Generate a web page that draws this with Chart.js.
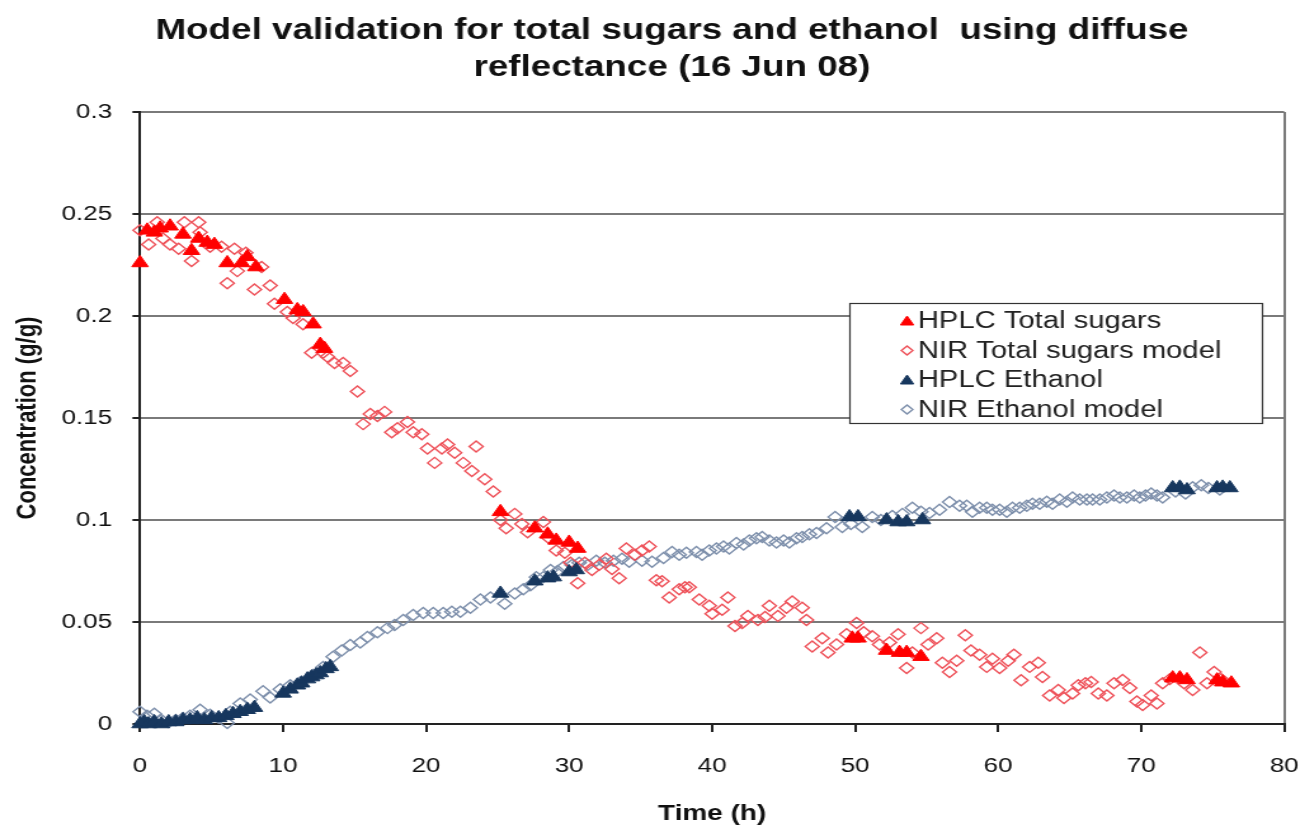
<!DOCTYPE html>
<html>
<head>
<meta charset="utf-8">
<title>Model validation for total sugars and ethanol</title>
<script src="https://cdn.jsdelivr.net/npm/chart.js@4.4.1/dist/chart.umd.min.js"></script>
<style>
  html, body { margin: 0; padding: 0; background: #fff; overflow: hidden; }
  /* the original export is a little wider than tall, so stretch the canvas sideways */
  #wrap { width: 1045px; height: 828px; transform: scaleX(1.2695); transform-origin: 0 0; }
</style>
</head>
<body>
<div id="wrap"><canvas id="fermChart" width="1045" height="828"></canvas></div>
<script>
// time (h), concentration (g/g)
var hplcSugars = [
  [0, 0.226], [0.5, 0.242], [1, 0.241], [1.4, 0.243], [2.1, 0.244], [3.0, 0.240],
  [3.6, 0.232], [4.1, 0.238], [4.7, 0.236], [5.2, 0.235], [6.1, 0.226], [7.1, 0.226],
  [7.5, 0.229], [8.1, 0.224], [10.1, 0.208], [11.0, 0.203], [11.4, 0.202], [12.1, 0.196],
  [12.6, 0.186], [12.9, 0.184],
  [25.2, 0.104], [27.6, 0.096], [28.5, 0.093], [29.1, 0.090], [30.0, 0.089], [30.6, 0.086],
  [49.8, 0.042], [50.2, 0.042], [52.2, 0.036], [53.1, 0.035], [53.6, 0.035], [54.6, 0.033],
  [72.2, 0.0225], [72.7, 0.0225], [73.2, 0.0216], [75.3, 0.0215], [75.7, 0.0205], [76.3, 0.020]
];

var nirSugars = [
  [0, 0.242], [0.6, 0.235], [1.2, 0.246], [1.6, 0.238], [2.1, 0.235], [2.7, 0.233],
  [3.1, 0.246], [3.6, 0.227], [4.1, 0.246], [4.2, 0.241], [4.9, 0.234], [5.7, 0.234],
  [6.1, 0.216], [6.6, 0.233], [6.8, 0.222], [7.4, 0.231], [8.0, 0.213], [8.5, 0.224],
  [9.1, 0.215], [9.4, 0.206], [10.3, 0.202], [10.7, 0.199], [11.4, 0.196], [12.0, 0.182],
  [12.8, 0.182], [13.1, 0.180], [13.6, 0.177], [14.2, 0.177], [14.7, 0.173], [15.2, 0.163],
  [15.6, 0.147], [16.1, 0.152], [16.6, 0.151], [17.1, 0.153], [17.6, 0.143], [18.0, 0.145],
  [18.7, 0.148], [19.1, 0.143], [19.7, 0.142], [20.1, 0.135], [20.6, 0.128], [21.1, 0.135],
  [21.5, 0.137], [22.0, 0.133], [22.6, 0.128], [23.2, 0.124], [23.5, 0.136], [24.1, 0.120],
  [24.7, 0.114], [25.2, 0.100], [25.6, 0.096], [26.2, 0.103], [26.7, 0.098], [27.1, 0.094],
  [28.2, 0.099], [28.6, 0.091], [29.1, 0.085], [29.7, 0.084], [30.1, 0.079], [30.6, 0.069],
  [31.1, 0.079], [31.6, 0.0755], [32.1, 0.078], [32.6, 0.081], [33.0, 0.076], [33.5, 0.0715],
  [34.0, 0.086], [34.6, 0.083], [35.1, 0.085], [35.6, 0.087], [36.1, 0.0705], [36.5, 0.070],
  [37.0, 0.062], [37.7, 0.066], [38.1, 0.067], [38.4, 0.067], [39.1, 0.061], [39.8, 0.058],
  [40.0, 0.054], [40.7, 0.056], [41.1, 0.062], [41.6, 0.048], [42.1, 0.0495], [42.5, 0.053],
  [43.2, 0.051], [43.7, 0.0525], [44.0, 0.058], [44.6, 0.053], [45.2, 0.057], [45.6, 0.060],
  [46.3, 0.057], [46.6, 0.051], [47.0, 0.038], [47.7, 0.042], [48.1, 0.035], [48.7, 0.039],
  [49.4, 0.044], [50.1, 0.0495], [50.6, 0.045], [51.2, 0.043], [51.7, 0.039], [52.4, 0.040],
  [53.0, 0.044], [53.6, 0.0275], [54.0, 0.035], [54.6, 0.047], [55.1, 0.039], [55.7, 0.042],
  [56.1, 0.030], [56.6, 0.0255], [57.1, 0.031], [57.7, 0.0435], [58.1, 0.036], [58.7, 0.034],
  [59.2, 0.028], [59.6, 0.032], [60.1, 0.0275], [60.7, 0.031], [61.1, 0.034], [61.6, 0.0215],
  [62.2, 0.028], [62.8, 0.030], [63.1, 0.023], [63.6, 0.014], [64.2, 0.0167], [64.6, 0.0127],
  [65.2, 0.015], [65.6, 0.019], [66.1, 0.020], [66.5, 0.0206], [67.0, 0.015], [67.6, 0.014],
  [68.1, 0.020], [68.7, 0.0216], [69.2, 0.0176], [69.7, 0.011], [70.1, 0.0093], [70.7, 0.014],
  [71.1, 0.010], [71.5, 0.020], [72.0, 0.022], [73.0, 0.020], [73.6, 0.0167], [74.1, 0.035],
  [74.6, 0.020], [75.1, 0.0255], [75.6, 0.022]
];

var hplcEthanol = [
  [0, 0.000], [0.3, 0.001], [0.6, 0.000], [1, 0.001], [1.5, 0.000], [2, 0.001], [2.5, 0.001],
  [3, 0.002], [3.5, 0.002], [4, 0.003], [4.5, 0.002], [5, 0.003], [5.5, 0.003], [6, 0.004],
  [6.5, 0.005], [7, 0.006], [7.5, 0.007], [8, 0.008], [10, 0.015], [10.5, 0.017], [11, 0.019],
  [11.3, 0.020], [11.7, 0.022], [12, 0.023], [12.3, 0.024], [12.6, 0.025], [13, 0.027], [13.3, 0.028],
  [25.2, 0.064], [27.6, 0.070], [28.5, 0.0715], [28.9, 0.072], [30.0, 0.0745], [30.5, 0.0755],
  [49.6, 0.1015], [50.2, 0.1015], [52.2, 0.100], [53.0, 0.099], [53.6, 0.099], [54.7, 0.100],
  [72.2, 0.1157], [72.7, 0.116], [73.2, 0.1147], [75.3, 0.1157], [75.7, 0.116], [76.2, 0.1157]
];

var nirEthanol = [
  [0, 0.006], [0.5, 0.004], [1.0, 0.005], [1.5, 0.002], [2.0, 0.001], [2.5, 0.002], [3.0, 0.003],
  [3.5, 0.004], [4.2, 0.007], [4.9, 0.0045], [5.5, 0.003], [6.1, 0.0005], [6.3, 0.006], [7.0, 0.010],
  [7.7, 0.012], [8.6, 0.016], [9.1, 0.013], [9.8, 0.017], [10.5, 0.019], [11.2, 0.0205], [12.1, 0.024],
  [12.8, 0.028], [13.5, 0.033], [14.1, 0.036], [14.7, 0.0387], [15.4, 0.040], [15.9, 0.0427],
  [16.6, 0.045], [17.3, 0.047], [17.8, 0.0485], [18.4, 0.051], [19.1, 0.0534], [19.8, 0.0544],
  [20.5, 0.0544], [21.2, 0.0544], [21.8, 0.055], [22.4, 0.055], [23.1, 0.057], [23.8, 0.061],
  [24.5, 0.062], [25.5, 0.059], [26.2, 0.064], [26.8, 0.066], [27.3, 0.068], [27.7, 0.072],
  [28.2, 0.072], [28.7, 0.0755], [29.2, 0.075], [29.6, 0.077], [30.2, 0.078], [30.7, 0.079],
  [31.3, 0.078], [31.9, 0.080], [32.5, 0.079], [33.1, 0.080], [33.7, 0.081], [34.2, 0.0795],
  [35.1, 0.080], [35.8, 0.0795], [36.6, 0.0814], [37.2, 0.0843], [37.7, 0.083], [38.2, 0.084],
  [38.9, 0.0843], [39.3, 0.083], [39.8, 0.085], [40.3, 0.086], [40.8, 0.087], [41.2, 0.086],
  [41.7, 0.0887], [42.2, 0.088], [42.6, 0.090], [43.1, 0.091], [43.5, 0.0917], [44.0, 0.090],
  [44.5, 0.089], [45.0, 0.090], [45.4, 0.089], [45.9, 0.091], [46.3, 0.0917], [46.8, 0.093],
  [47.3, 0.0936], [48.0, 0.096], [48.6, 0.1015], [49.1, 0.0966], [49.7, 0.098], [50.5, 0.0966],
  [51.2, 0.1015], [51.8, 0.100], [52.6, 0.102], [53.3, 0.103], [54.0, 0.106], [54.6, 0.104],
  [55.2, 0.1034], [55.9, 0.105], [56.6, 0.1088], [57.3, 0.107], [57.8, 0.107], [58.2, 0.104],
  [58.7, 0.106], [59.2, 0.106], [59.6, 0.105], [60.1, 0.105], [60.6, 0.104], [61.0, 0.106],
  [61.5, 0.106], [62.0, 0.107], [62.4, 0.108], [62.9, 0.108], [63.4, 0.109], [63.8, 0.108],
  [64.3, 0.110], [64.8, 0.109], [65.2, 0.111], [65.7, 0.110], [66.2, 0.110], [66.6, 0.110],
  [67.1, 0.110], [67.6, 0.111], [68.1, 0.112], [68.5, 0.111], [69.0, 0.111], [69.5, 0.112],
  [69.9, 0.111], [70.3, 0.112], [70.7, 0.113], [71.1, 0.112], [71.5, 0.111], [72.4, 0.114],
  [73.1, 0.113], [73.6, 0.116], [74.2, 0.117], [74.7, 0.1157], [75.5, 0.115]
];

var seriesNames = ['HPLC Total sugars', 'NIR Total sugars model', 'HPLC Ethanol', 'NIR Ethanol model'];
var titleLines = ['Model validation for total sugars and ethanol  using diffuse', 'reflectance (16 Jun 08)'];
var yTicks = [0, 0.05, 0.1, 0.15, 0.2, 0.25, 0.3];
var xTicks = [0, 10, 20, 30, 40, 50, 60, 70, 80];

var FONT = '"Liberation Sans", Arial, sans-serif';
var RED = '#ff0000';
var RED_OPEN = '#ee5058';
var NAVY = '#17375e';
var SLATE = '#7d8fab';

function toPoints(arr) {
  return arr.map(function(p) { return { x: p[0], y: p[1] }; });
}

// two-line heading, centred a bit right of the canvas middle
var heading = {
  id: 'heading',
  afterDraw: function(chart) {
    var ctx = chart.ctx;
    ctx.save();
    ctx.font = 'bold 29px ' + FONT;
    ctx.fillStyle = '#111';
    ctx.textAlign = 'center';
    ctx.textBaseline = 'middle';
    titleLines.forEach(function(line, i) {
      ctx.fillText(line, 529.3, 31 + i * 37);
    });
    ctx.restore();
  }
};

// boxed legend sitting inside the plot area, right of centre
var boxLegend = {
  id: 'boxLegend',
  afterDraw: function(chart) {
    var ctx = chart.ctx;
    var left = 669.5, top = 303, w = 325, h = 120;
    ctx.save();
    ctx.fillStyle = '#fff';
    ctx.fillRect(left, top, w, h);
    ctx.strokeStyle = '#333';
    ctx.lineWidth = 1.2;
    ctx.strokeRect(left, top + 0.5, w, h);
    ctx.font = '23px ' + FONT;
    ctx.textBaseline = 'middle';
    chart.data.datasets.forEach(function(ds, i) {
      var cy = top + 18 + i * 29.5;
      var tri = ds.pointStyle === 'triangle';
      var opts = {
        pointStyle: ds.pointStyle,
        radius: tri ? 6 : 4.5,
        borderWidth: ds.borderWidth,
        rotation: 0
      };
      ctx.fillStyle = ds.backgroundColor;
      ctx.strokeStyle = ds.borderColor;
      ctx.lineWidth = ds.borderWidth;
      Chart.helpers.drawPoint(ctx, opts, 714.5, cy + (tri ? 1 : 0));
      ctx.fillStyle = '#222';
      ctx.fillText(ds.label, 723, cy + 1);
    });
    ctx.restore();
  }
};

new Chart(document.getElementById('fermChart'), {
  type: 'scatter',
  data: {
    datasets: [{
      label: seriesNames[0],
      data: toPoints(hplcSugars),
      pointStyle: 'triangle',
      radius: 7.5,
      backgroundColor: RED,
      borderColor: RED,
      borderWidth: 1,
      clip: false,
      order: 1
    }, {
      label: seriesNames[1],
      data: toPoints(nirSugars),
      pointStyle: 'rectRot',
      radius: 5.5,
      backgroundColor: 'rgba(255,255,255,0)',
      borderColor: RED_OPEN,
      borderWidth: 1.4,
      clip: false,
      order: 2
    }, {
      label: seriesNames[2],
      data: toPoints(hplcEthanol),
      pointStyle: 'triangle',
      radius: 7.5,
      backgroundColor: NAVY,
      borderColor: NAVY,
      borderWidth: 1,
      clip: false,
      order: 1
    }, {
      label: seriesNames[3],
      data: toPoints(nirEthanol),
      pointStyle: 'rectRot',
      radius: 5.5,
      backgroundColor: 'rgba(255,255,255,0)',
      borderColor: SLATE,
      borderWidth: 1.4,
      clip: false,
      order: 2
    }]
  },
  plugins: [heading, boxLegend],
  options: {
    responsive: false,
    animation: false,
    events: [],
    layout: { padding: { left: 0, right: 0, top: 112, bottom: 1 } },
    plugins: {
      legend: { display: false },
      tooltip: { enabled: false },
      title: { display: false }
    },
    scales: {
      x: {
        type: 'linear',
        min: 0,
        max: 80,
        afterBuildTicks: function(scale) {
          scale.ticks = xTicks.map(function(v) { return { value: v }; });
        },
        ticks: {
          color: '#111',
          font: { family: FONT, size: 20.5 },
          padding: 22,
          maxRotation: 0
        },
        grid: {
          color: function(c) { return c.tick && c.tick.value === 80 ? '#7a7a7a' : 'rgba(0,0,0,0)'; },
          lineWidth: 2,
          tickColor: '#222',
          tickLength: 8
        },
        border: { color: '#222', width: 2 },
        title: {
          display: true,
          text: 'Time (h)',
          color: '#111',
          font: { family: FONT, size: 22, weight: 'bold' },
          padding: { top: 0, bottom: 0 }
        }
      },
      y: {
        type: 'linear',
        min: 0,
        max: 0.3,
        afterBuildTicks: function(scale) {
          scale.ticks = yTicks.map(function(v) { return { value: v }; });
        },
        afterFit: function(scale) { scale.width = 110.3; },
        ticks: {
          color: '#111',
          font: { family: FONT, size: 20.5 },
          padding: 16,
          callback: function(v) { return String(+v.toFixed(2)); }
        },
        grid: {
          color: '#7a7a7a',
          lineWidth: 2,
          tickColor: '#222',
          tickLength: 6
        },
        border: { color: '#222', width: 2 },
        title: {
          display: true,
          text: 'Concentration (g/g)',
          color: '#111',
          font: { family: FONT, size: 22, weight: 'bold' },
          padding: { top: 9, bottom: 0 }
        }
      }
    }
  }
});
</script>
</body>
</html>
